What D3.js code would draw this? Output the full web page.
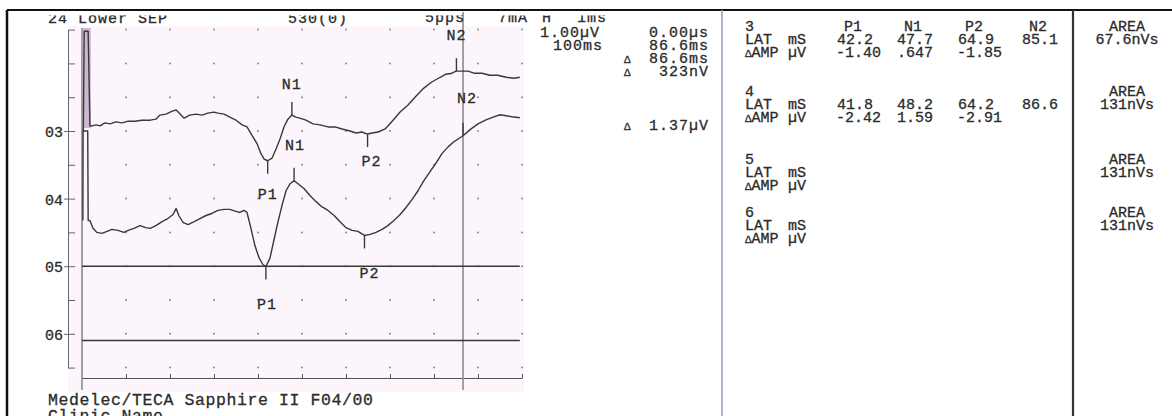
<!DOCTYPE html>
<html>
<head>
<meta charset="utf-8">
<script src="https://cdn.jsdelivr.net/npm/d3@7"></script>
<style>
  body { margin: 0; background: #fff; }
  text { font-family: "Liberation Mono", "DejaVu Sans Mono", monospace; fill: #2b2b2b; stroke: #2b2b2b; stroke-width: 0.3px; }
</style>
</head>
<body>
<div id="chart"></div>
<script>
// DATA (time in ms, amplitude in uV, negative up = positive value here)
const channels = ['3', '4', '5', '6'];
const peakNames = ['P1', 'N1', 'P2', 'N2'];

const trace3 = [[0.3, 0.0], [0.5, 2.95], [1.4, 2.95], [1.8, 0.15], [2.3, 0.15], [3.2, 0.18], [4.1, 0.15], [5.2, 0.24], [6.4, 0.21], [7.7, 0.27], [9.1, 0.24], [10.5, 0.29], [12.0, 0.29], [13.6, 0.32], [15.5, 0.32], [16.8, 0.35], [17.7, 0.47], [19.1, 0.50], [20.5, 0.59], [21.4, 0.62], [22.3, 0.50], [23.2, 0.38], [24.5, 0.47], [25.9, 0.50], [27.3, 0.47], [28.6, 0.53], [30.0, 0.56], [30.9, 0.53], [32.3, 0.50], [33.6, 0.41], [35.0, 0.32], [36.4, 0.18], [37.5, 0.12], [38.6, -0.12], [39.8, -0.38], [40.7, -0.68], [41.4, -0.83], [42.2, -0.88], [43.2, -0.80], [44.1, -0.53], [45.0, -0.24], [45.9, 0.12], [46.8, 0.35], [47.7, 0.47], [48.6, 0.41], [49.5, 0.38], [50.9, 0.32], [52.5, 0.21], [54.1, 0.18], [55.9, 0.12], [57.5, 0.12], [59.1, 0.06], [60.9, 0.00], [62.3, -0.06], [63.6, -0.03], [64.9, -0.09], [65.9, -0.06], [67.3, -0.03], [68.9, 0.06], [70.5, 0.29], [72.3, 0.56], [74.1, 0.77], [75.9, 1.03], [77.7, 1.27], [79.5, 1.45], [81.4, 1.59], [82.7, 1.68], [84.1, 1.71], [85.0, 1.77], [86.4, 1.77], [87.7, 1.77], [89.1, 1.71], [90.9, 1.71], [92.7, 1.65], [94.5, 1.65], [96.4, 1.59], [98.2, 1.56], [99.5, 1.59]];

const trace4 = [[0.2, -0.65], [0.25, 2.0], [1.3, 2.0], [1.4, -0.65], [1.8, -0.65], [2.5, -0.88], [3.4, -1.00], [4.5, -1.03], [5.7, -0.97], [6.8, -0.91], [8.2, -0.94], [9.5, -1.00], [10.5, -0.94], [11.8, -0.88], [13.2, -0.80], [14.5, -0.86], [15.5, -0.88], [16.8, -0.80], [18.2, -0.68], [19.5, -0.59], [20.7, -0.47], [21.4, -0.29], [22.0, -0.50], [23.0, -0.71], [24.1, -0.77], [25.5, -0.68], [26.8, -0.59], [28.2, -0.50], [29.5, -0.44], [30.9, -0.35], [32.3, -0.32], [33.6, -0.32], [35.0, -0.38], [35.9, -0.41], [36.8, -0.35], [37.5, -0.41], [38.4, -0.88], [39.3, -1.39], [40.2, -1.74], [41.1, -1.95], [41.8, -2.01], [42.7, -1.77], [43.6, -1.24], [44.5, -0.71], [45.5, -0.18], [46.4, 0.24], [47.3, 0.44], [48.2, 0.53], [49.1, 0.44], [50.5, 0.29], [51.8, 0.09], [53.2, -0.09], [54.5, -0.24], [55.9, -0.35], [57.3, -0.50], [58.6, -0.68], [60.0, -0.86], [61.4, -0.94], [62.7, -0.97], [64.2, -1.09], [65.5, -1.06], [66.8, -1.00], [68.2, -0.91], [69.5, -0.80], [70.9, -0.65], [72.3, -0.47], [73.6, -0.27], [75.0, -0.03], [76.4, 0.24], [77.7, 0.53], [79.1, 0.80], [80.5, 1.06], [81.8, 1.33], [83.2, 1.53], [84.5, 1.68], [85.9, 1.80], [86.6, 1.86], [88.2, 2.04], [90.0, 2.21], [91.8, 2.33], [93.6, 2.42], [95.0, 2.48], [96.4, 2.45], [97.7, 2.42], [99.5, 2.39]];

const trace5 = [[0, 0], [99.5, 0]];
const trace6 = [[0, -0.2], [99.5, -0.2]];

const latencies3 = [42.2, 47.7, 64.9, 85.1];
const latencies4 = [41.8, 48.2, 64.2, 86.6];
const deltaAmp3 = ['-1.40', '.647', '-1.85'];
const deltaAmp4 = ['-2.42', '1.59', '-2.91'];
const areas = ['67.6nVs', '131nVs', '131nVs', '131nVs'];

const axisLabels = ['03', '04', '05', '06'];
const headerLeft = ['24 Lower SEP', '530(0)'];
const settings = ['5pps', '7mA', 'H', '1ms'];
const scaleInfo = ['1.00\u00b5V', '100ms'];
const cursorInfo = ['0.00\u00b5s', '86.6ms', '86.6ms', '323nV', '1.37\u00b5V'];
const cursorMs = 86.6;
const footer = ['Medelec/TECA Sapphire II F04/00', 'Clinic Name'];

// LAYOUT
const width = 1172, height = 416;
const svg = d3.select('#chart').append('svg')
    .attr('width', width)
    .attr('height', height);

const x = d3.scaleLinear().domain([0, 100]).range([82, 522]);
const row = d3.scaleLinear().domain([0, 10]).range([29.6, 367.6]);   // 1 div = 1.00uV
const baseDiv = { '3': 3, '4': 5, '5': 7, '6': 9 };
const yOf = (ch, v) => row(baseDiv[ch] - v);

// pale paper tint behind the traces
svg.append('rect')
    .attr('x', 68).attr('y', 26)
    .attr('width', 456).attr('height', 366)
    .attr('fill', '#fcf6fc');

// dot grid
const dots = [];
d3.range(0, 11).forEach(r => d3.range(10, 101, 10).forEach(t => dots.push([t, r])));
svg.append('g').selectAll('circle')
  .data(dots)
  .enter().append('circle')
    .attr('cx', d => x(d[0]))
    .attr('cy', d => row(d[1]))
    .attr('r', 1)
    .attr('fill', '#8a8a8a');

// Y axis (channel rows)
const yAxis = d3.axisLeft(row)
    .tickValues(d3.range(0, 11))
    .tickSize(-7)
    .tickSizeOuter(0)
    .tickPadding(5)
    .tickFormat(i => (i % 2 === 1 && i >= 3) ? axisLabels[(i - 3) / 2] : '');
const yAxisG = svg.append('g')
    .attr('transform', 'translate(68,0)')
    .call(yAxis);
yAxisG.select('.domain').attr('stroke', '#666');
yAxisG.selectAll('.tick line').attr('stroke', '#666')
    .attr('x1', i => (i % 2 === 1 && i >= 3) ? -4 : 0);
yAxisG.selectAll('.tick text')
    .style('font-family', '"Liberation Mono", monospace')
    .style('font-size', '15px')
    .attr('fill', '#2b2b2b')
    .attr('dy', '0.38em');

// X axis at the bottom
const xAxis = d3.axisTop(x)
    .tickValues(d3.range(10, 101, 10))
    .tickSize(4)
    .tickSizeOuter(0)
    .tickFormat('');
const xAxisG = svg.append('g')
    .attr('transform', 'translate(0,378)')
    .call(xAxis);
xAxisG.selectAll('line, path').attr('stroke', '#555');

// time zero line
svg.append('line')
    .attr('x1', x(0)).attr('x2', x(0))
    .attr('y1', 28).attr('y2', 390)
    .attr('stroke', '#666').attr('stroke-width', 1.2);

// stimulus artifact smear
svg.append('rect')
    .attr('x', x(0)).attr('y', 28)
    .attr('width', x(2) - x(0)).attr('height', 100)
    .attr('fill', '#b9a0bb').attr('opacity', 0.7);

// cursor
svg.append('line')
    .attr('x1', x(cursorMs)).attr('x2', x(cursorMs))
    .attr('y1', 12).attr('y2', 390)
    .attr('stroke', '#8c8c8c').attr('stroke-width', 1.6);

// TRACES
const traces = [trace3, trace4, trace5, trace6];
const line = ch => d3.line()
    .x(d => x(d[0]))
    .y(d => yOf(ch, d[1]));

svg.append('g').selectAll('path')
  .data(traces)
  .enter().append('path')
    .attr('d', (d, i) => line(channels[i])(d))
    .attr('fill', 'none')
    .attr('stroke', '#383838')
    .attr('stroke-width', 1.4)
    .attr('stroke-linejoin', 'round');

// PEAK MARKERS
const valueAt = (tr, t) => {
  const i = d3.bisector(d => d[0]).left(tr, t);
  const a = tr[Math.max(0, i - 1)], b = tr[Math.min(tr.length - 1, i)];
  if (b[0] === a[0]) return a[1];
  return a[1] + (b[1] - a[1]) * (t - a[0]) / (b[0] - a[0]);
};
// label nudges (px) from the trace point
const labelNudge = {
  '3P1': [0, 33], '3N1': [0, -32], '3P2': [4, 27], '3N2': [0, -37],
  '4P1': [1, 37], '4N1': [1, -36], '4P2': [5, 37], '4N2': [4, -38]
};
const markers = [];
[[trace3, latencies3, '3'], [trace4, latencies4, '4']].forEach(([tr, lats, ch]) => {
  lats.forEach((t, i) => markers.push({ ch, name: peakNames[i], t, v: valueAt(tr, t) }));
});

const mk = svg.append('g').selectAll('g')
  .data(markers)
  .enter().append('g');
mk.append('line')
    .attr('x1', d => x(d.t)).attr('x2', d => x(d.t))
    .attr('y1', d => yOf(d.ch, d.v))
    .attr('y2', d => yOf(d.ch, d.v) + (d.name[0] === 'N' ? -13 : 13))
    .attr('stroke', '#383838').attr('stroke-width', 1.4);
mk.append('text')
    .attr('x', d => x(d.t) + labelNudge[d.ch + d.name][0])
    .attr('y', d => yOf(d.ch, d.v) + labelNudge[d.ch + d.name][1])
    .attr('dy', '0.36em')
    .attr('text-anchor', 'middle')
    .style('font-size', '15px')
    .style('letter-spacing', '1px')
    .text(d => d.name);

// FRAME
svg.append('line').attr('x1', 7).attr('x2', width).attr('y1', 10).attr('y2', 10)
    .attr('stroke', '#111').attr('stroke-width', 2);
svg.append('line').attr('x1', 7).attr('x2', 7).attr('y1', 10).attr('y2', height)
    .attr('stroke', '#111').attr('stroke-width', 2.5);
svg.append('line').attr('x1', 722).attr('x2', 722).attr('y1', 10).attr('y2', height)
    .attr('stroke', '#98a0c6').attr('stroke-width', 1.6);
svg.append('line').attr('x1', 1073).attr('x2', 1073).attr('y1', 10).attr('y2', height)
    .attr('stroke', '#333').attr('stroke-width', 2.2);

// HEADER TEXT (top edge cut by the frame)
svg.append('clipPath').attr('id', 'hdrclip')
  .append('rect').attr('x', 0).attr('y', 15.5).attr('width', 720).attr('height', 30);
const hdr = svg.append('g').attr('clip-path', 'url(#hdrclip)')
    .style('font-size', '15px').style('letter-spacing', '1px');
hdr.append('text').attr('x', 48).attr('y', 23).text(headerLeft[0]);
hdr.append('text').attr('x', 288).attr('y', 23).text(headerLeft[1]);
const settingX = [425, 498, 542, 577];
settings.forEach((s, i) => hdr.append('text').attr('x', settingX[i]).attr('y', 22).text(s));

const info = svg.append('g').style('font-size', '15px').style('letter-spacing', '1px');
info.append('text').attr('x', 540).attr('y', 37).text(scaleInfo[0]);
info.append('text').attr('x', 553).attr('y', 50).text(scaleInfo[1]);
const cursorY = [37, 50, 63, 76, 130];
info.selectAll('text.cur')
  .data(cursorInfo)
  .enter().append('text')
    .attr('class', 'cur')
    .attr('x', 709).attr('y', (d, i) => cursorY[i])
    .attr('text-anchor', 'end')
    .text(d => d);
info.selectAll('text.tri')
  .data(cursorY.slice(2))
  .enter().append('text')
    .attr('class', 'tri')
    .attr('x', 624).attr('y', d => d)
    .style('font-size', '11px')
    .text('\u0394');

// RESULTS TABLE
const tableRows = { '3': [31, 44, 57], '4': [96, 109, 122], '5': [164, 177, 190], '6': [217, 230, 243] };
const colX = [837, 897, 958, 1022];
const tbl = svg.append('g').style('font-size', '15px');
channels.forEach((ch, ci) => {
  const [r0, r1, r2] = tableRows[ch];
  tbl.append('text').attr('x', 745).attr('y', r0).text(ch);
  tbl.append('text').attr('x', 745).attr('y', r1).text('LAT');
  tbl.append('text').attr('x', 788).attr('y', r1).text('mS');
  const amp = tbl.append('text').attr('x', 745).attr('y', r2);
  amp.append('tspan').style('font-size', '11px').text('\u0394');
  amp.append('tspan').text('AMP');
  tbl.append('text').attr('x', 788).attr('y', r2).text('\u00b5V');
  tbl.append('text').attr('x', 1127).attr('y', r0).attr('text-anchor', 'middle').text('AREA');
  tbl.append('text').attr('x', 1127).attr('y', r1).attr('text-anchor', 'middle').text(areas[ci]);
});
[['3', latencies3, deltaAmp3], ['4', latencies4, deltaAmp4]].forEach(([ch, lats, amps]) => {
  const [r0, r1, r2] = tableRows[ch];
  if (ch === '3') {
    peakNames.forEach((p, i) => tbl.append('text')
      .attr('x', colX[i] + 16).attr('y', r0).attr('text-anchor', 'middle').text(p));
  }
  lats.forEach((t, i) => tbl.append('text').attr('x', colX[i]).attr('y', r1).text(d3.format('.1f')(t)));
  amps.forEach((a, i) => tbl.append('text').attr('x', colX[i] - (a[0] === '-' ? 1 : 0)).attr('y', r2).text(a));
});

// FOOTER
const ft = svg.append('g').style('font-size', '16.5px').style('letter-spacing', '0.6px');
ft.append('text').attr('x', 48).attr('y', 405).text(footer[0]);
ft.append('text').attr('x', 48).attr('y', 421).text(footer[1]);
</script>
</body>
</html>
